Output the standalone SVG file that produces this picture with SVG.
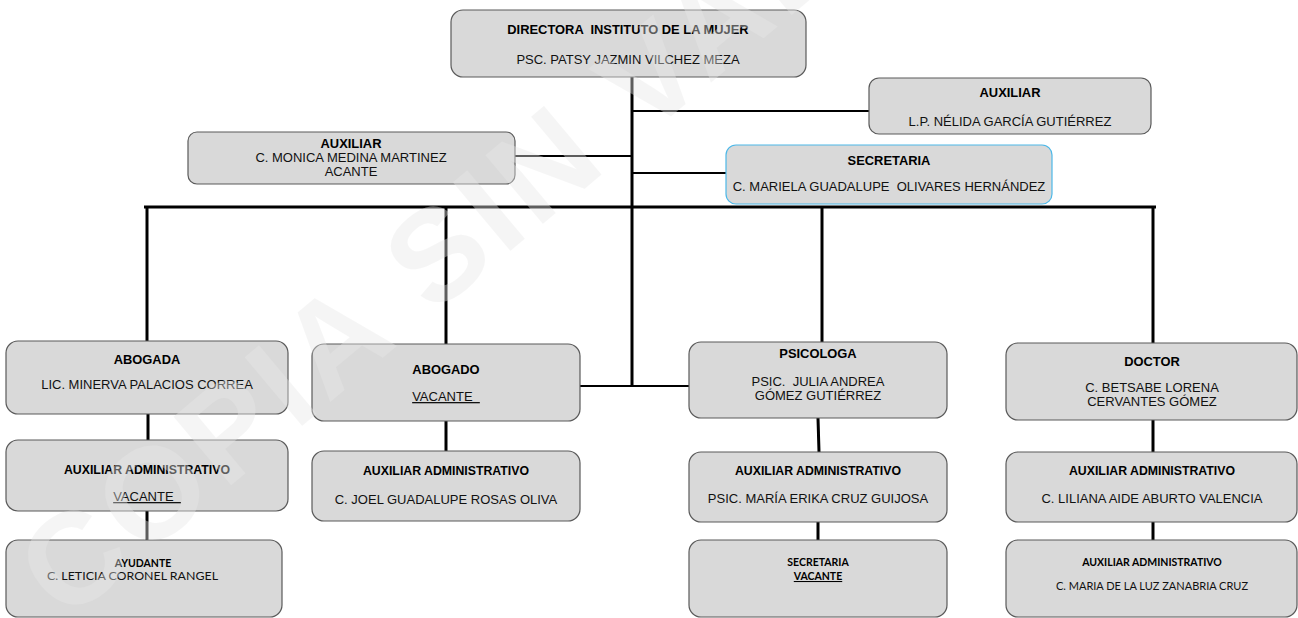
<svg xmlns="http://www.w3.org/2000/svg" width="1298" height="618" viewBox="0 0 1298 618">
<style>
.box{fill:#d9d9d9;stroke:#5a5a5a;stroke-width:1.2}
.sec{fill:#d9d9d9;stroke:#4db8e8;stroke-width:1.2}
.t{font-family:"Liberation Sans",Arial,sans-serif;font-size:12.9px;font-weight:bold;fill:#000;text-anchor:middle}
.aa{font-size:12.3px}
.n{font-family:"Liberation Sans",Arial,sans-serif;font-size:13px;fill:#111;text-anchor:middle}
.ct{font-family:Lato,"Liberation Sans",sans-serif;font-size:10.5px;font-weight:bold;fill:#000;text-anchor:middle}
.cn{font-family:Lato,"Liberation Sans",sans-serif;font-size:11px;fill:#111}
.c{stroke:#000;stroke-width:3;fill:none}
.c2{stroke:#000;stroke-width:2;fill:none}
.wm{font-family:"Liberation Sans",Arial,sans-serif;font-size:130px;font-weight:bold;fill:#e8e8e8;opacity:0.4;letter-spacing:6px}
</style>
<rect width="1298" height="618" fill="#fff"/>
<g id="connectors">
<line class="c" x1="632" y1="77" x2="632" y2="387"/>
<line class="c2" x1="632" y1="111" x2="869" y2="111"/>
<line class="c2" x1="515" y1="156" x2="632" y2="156"/>
<line class="c2" x1="632" y1="173" x2="726" y2="173"/>
<line class="c" x1="144" y1="207" x2="1156" y2="207"/>
<line class="c" x1="147" y1="207" x2="147" y2="341"/>
<line class="c" x1="446" y1="207" x2="446" y2="344"/>
<line class="c" x1="822" y1="207" x2="822" y2="342"/>
<line class="c" x1="1153" y1="207" x2="1153" y2="343"/>
<line class="c2" x1="580" y1="386" x2="689" y2="386"/>
<line class="c" x1="148" y1="414" x2="148" y2="440"/>
<line class="c" x1="147" y1="511" x2="147" y2="540"/>
<line class="c" x1="446" y1="421" x2="446" y2="451"/>
<line class="c" x1="818" y1="418" x2="819" y2="452"/>
<line class="c" x1="818" y1="522" x2="818" y2="540"/>
<line class="c" x1="1153" y1="420" x2="1153" y2="452"/>
<line class="c" x1="1153" y1="522" x2="1153" y2="540"/>
</g>
<g id="directora">
<rect class="box" x="451" y="10" width="355" height="67" rx="12"/>
<text class="t" x="628" y="34" font-size="14.3" xml:space="preserve">DIRECTORA  INSTITUTO DE LA MUJER</text>
<text class="n" x="628" y="64" font-size="14.4">PSC. PATSY JAZMIN VILCHEZ MEZA</text>
</g>
<g id="auxiliar-garcia">
<rect class="box" x="869" y="78" width="282" height="56" rx="10"/>
<text class="t" x="1010" y="97">AUXILIAR</text>
<text class="n" x="1010" y="126">L.P. NÉLIDA GARCÍA GUTIÉRREZ</text>
</g>
<g id="auxiliar-medina">
<rect class="box" x="188" y="132" width="327" height="52" rx="9"/>
<text class="t" x="351" y="148">AUXILIAR</text>
<text class="n" x="351" y="162">C. MONICA MEDINA MARTINEZ</text>
<text class="n" x="351" y="176">ACANTE</text>
</g>
<g id="secretaria-olivares">
<rect class="sec" x="726" y="145" width="326" height="59" rx="10"/>
<text class="t" x="889" y="165">SECRETARIA</text>
<text class="n" x="889" y="191" xml:space="preserve">C. MARIELA GUADALUPE  OLIVARES HERNÁNDEZ</text>
</g>
<g id="abogada">
<rect class="box" x="6" y="341" width="282" height="73" rx="12"/>
<text class="t" x="147" y="364">ABOGADA</text>
<text class="n" x="147" y="389">LIC. MINERVA PALACIOS CORREA</text>
</g>
<g id="abogado">
<rect class="box" x="312" y="344" width="268" height="77" rx="12"/>
<text class="t" x="446" y="374">ABOGADO</text>
<text class="n" x="446" y="401" xml:space="preserve" text-decoration="underline">VACANTE  </text>
</g>
<g id="psicologa">
<rect class="box" x="689" y="342" width="258" height="76" rx="12"/>
<text class="t" x="818" y="358">PSICOLOGA</text>
<text class="n" x="818" y="386" xml:space="preserve">PSIC.  JULIA ANDREA</text>
<text class="n" x="818" y="400">GÓMEZ GUTIÉRREZ</text>
</g>
<g id="doctor">
<rect class="box" x="1006" y="343" width="291" height="77" rx="12"/>
<text class="t" x="1152" y="366">DOCTOR</text>
<text class="n" x="1152" y="392">C. BETSABE LORENA</text>
<text class="n" x="1152" y="406">CERVANTES GÓMEZ</text>
</g>
<g id="aux-admin-abogada">
<rect class="box" x="6" y="440" width="282" height="71" rx="12"/>
<text class="t aa" x="147" y="474">AUXILIAR ADMINISTRATIVO</text>
<text class="n" x="147" y="501" xml:space="preserve" text-decoration="underline">VACANTE  </text>
</g>
<g id="aux-admin-abogado">
<rect class="box" x="312" y="451" width="268" height="70" rx="12"/>
<text class="t aa" x="446" y="475">AUXILIAR ADMINISTRATIVO</text>
<text class="n" x="446" y="504">C. JOEL GUADALUPE ROSAS OLIVA</text>
</g>
<g id="aux-admin-psicologa">
<rect class="box" x="689" y="452" width="258" height="70" rx="12"/>
<text class="t aa" x="818" y="475">AUXILIAR ADMINISTRATIVO</text>
<text class="n" x="818" y="503">PSIC. MARÍA ERIKA CRUZ GUIJOSA</text>
</g>
<g id="aux-admin-doctor">
<rect class="box" x="1006" y="452" width="291" height="70" rx="12"/>
<text class="t aa" x="1152" y="475">AUXILIAR ADMINISTRATIVO</text>
<text class="n" x="1152" y="503">C. LILIANA AIDE ABURTO VALENCIA</text>
</g>
<g id="ayudante">
<rect class="box" x="6" y="540" width="276" height="77" rx="12"/>
<text class="ct" x="143" y="567" font-size="11.5">AYUDANTE</text>
<text class="cn" x="47" y="580" textLength="171" lengthAdjust="spacingAndGlyphs">C. LETICIA CORONEL RANGEL</text>
</g>
<g id="secretaria-vacante">
<rect class="box" x="689" y="540" width="258" height="77" rx="12"/>
<text class="ct" x="818" y="566" font-size="9.5">SECRETARIA</text>
<text class="ct" x="818" y="580" font-size="9.5" font-weight="normal" text-decoration="underline">VACANTE</text>
</g>
<g id="aux-admin-zanabria">
<rect class="box" x="1006" y="540" width="291" height="77" rx="12"/>
<text class="ct" x="1152" y="566" font-size="9.7">AUXILIAR ADMINISTRATIVO</text>
<text class="cn" x="1152" y="590" font-size="9.2" text-anchor="middle">C. MARIA DE LA LUZ ZANABRIA CRUZ</text>
</g>
<text class="wm" transform="translate(480,215) rotate(-40)" x="-580" y="47">COPIA SIN VALOR</text>
</svg>
